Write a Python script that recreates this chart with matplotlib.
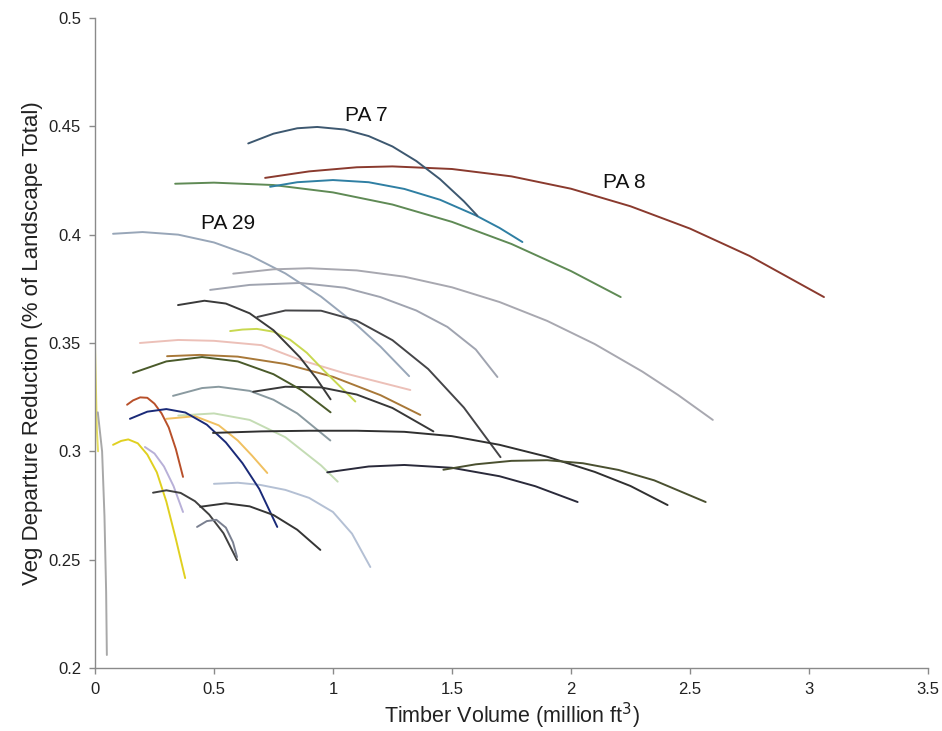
import matplotlib
matplotlib.use("Agg")
import matplotlib.pyplot as plt

plt.rcParams['font.family'] = ['Liberation Sans', 'DejaVu Sans']

# Timber volume (million ft3) vs. veg departure reduction, one frontier per planning area
pa7_vol = [0.644, 0.75, 0.85, 0.934, 1.05, 1.15, 1.25, 1.35, 1.45, 1.55, 1.607]
pa7_red = [0.4421, 0.4466, 0.4491, 0.4497, 0.4485, 0.4455, 0.4407, 0.4340, 0.4256, 0.4154, 0.4087]

pa8_vol = [0.715, 0.9, 1.1, 1.25, 1.5, 1.75, 2.0, 2.25, 2.5, 2.75, 3.063]
pa8_red = [0.4262, 0.4292, 0.4311, 0.4315, 0.4303, 0.4269, 0.4212, 0.4131, 0.4028, 0.3902, 0.3712]

teal_vol = [0.736, 0.85, 1.0, 1.15, 1.3, 1.45, 1.6, 1.7, 1.796]
teal_red = [0.4221, 0.4242, 0.4252, 0.4242, 0.4211, 0.4161, 0.4089, 0.4031, 0.3966]

green_vol = [0.337, 0.5, 0.75, 1.0, 1.25, 1.5, 1.75, 2.0, 2.209]
green_red = [0.4235, 0.4240, 0.4229, 0.4195, 0.4139, 0.4059, 0.3957, 0.3832, 0.3712]

pa29_vol = [0.076, 0.2, 0.35, 0.5, 0.65, 0.8, 0.95, 1.1, 1.2, 1.32]
pa29_red = [0.4004, 0.4012, 0.4000, 0.3964, 0.3905, 0.3821, 0.3714, 0.3583, 0.3483, 0.3347]

g384_vol = [0.581, 0.75, 0.9, 1.1, 1.3, 1.5, 1.7, 1.9, 2.1, 2.3, 2.45, 2.596]
g384_red = [0.3820, 0.3840, 0.3845, 0.3835, 0.3806, 0.3757, 0.3689, 0.3602, 0.3495, 0.3368, 0.3260, 0.3145]

g378_vol = [0.484, 0.65, 0.862, 1.05, 1.199, 1.35, 1.481, 1.6, 1.691]
g378_red = [0.3745, 0.3768, 0.3777, 0.3755, 0.3712, 0.3650, 0.3574, 0.3470, 0.3343]

d369_vol = [0.349, 0.46, 0.55, 0.65, 0.75, 0.862, 0.93, 0.99]
d369_red = [0.3675, 0.3695, 0.3682, 0.3637, 0.3559, 0.3433, 0.3337, 0.3240]

d365_vol = [0.682, 0.8, 0.95, 1.1, 1.25, 1.4, 1.55, 1.704]
d365_red = [0.3620, 0.3650, 0.3649, 0.3603, 0.3513, 0.3380, 0.3202, 0.2973]

d330_vol = [0.665, 0.8, 0.95, 1.1, 1.25, 1.422]
d330_red = [0.3275, 0.3298, 0.3295, 0.3262, 0.3200, 0.3092]

yg357_vol = [0.568, 0.62, 0.68, 0.75, 0.82, 0.89, 0.96, 1.02, 1.094]
yg357_red = [0.3555, 0.3562, 0.3565, 0.3552, 0.3515, 0.3455, 0.3375, 0.3310, 0.3230]

ol342_vol = [0.16, 0.3, 0.45, 0.6, 0.75, 0.87, 0.99]
ol342_red = [0.3362, 0.3415, 0.3435, 0.3415, 0.3356, 0.3281, 0.3180]

br345_vol = [0.303, 0.44, 0.6, 0.8, 1.0, 1.2, 1.367]
br345_red = [0.3439, 0.3445, 0.3437, 0.3403, 0.3344, 0.3259, 0.3168]

pk350_vol = [0.189, 0.35, 0.5, 0.7, 0.862, 1.05, 1.325]
pk350_red = [0.3500, 0.3514, 0.3510, 0.3490, 0.3422, 0.3360, 0.3283]

gy325_vol = [0.328, 0.45, 0.52, 0.65, 0.75, 0.85, 0.989]
gy325_red = [0.3256, 0.3292, 0.3298, 0.3279, 0.3238, 0.3175, 0.3050]

lg318_vol = [0.35, 0.5, 0.65, 0.8, 0.95, 1.02]
lg318_red = [0.3165, 0.3175, 0.3145, 0.3065, 0.2935, 0.2860]

or316_vol = [0.30, 0.42, 0.52, 0.60, 0.66, 0.724]
or316_red = [0.3150, 0.3162, 0.3120, 0.3050, 0.2980, 0.2900]

orr_vol = [0.135, 0.16, 0.19, 0.22, 0.25, 0.28, 0.31, 0.34, 0.37]
orr_red = [0.3215, 0.3235, 0.3249, 0.3247, 0.3220, 0.3175, 0.3110, 0.3010, 0.2882]

navy_vol = [0.147, 0.22, 0.30, 0.38, 0.47, 0.55, 0.62, 0.69, 0.766]
navy_red = [0.3150, 0.3183, 0.3195, 0.3179, 0.3123, 0.3041, 0.2945, 0.2827, 0.2651]

yel_vol = [0.076, 0.11, 0.14, 0.18, 0.22, 0.26, 0.30, 0.34, 0.379]
yel_red = [0.3030, 0.3048, 0.3055, 0.3037, 0.2985, 0.2903, 0.2768, 0.2595, 0.2415]

lav_vol = [0.21, 0.25, 0.29, 0.33, 0.37]
lav_red = [0.3020, 0.2990, 0.2930, 0.2840, 0.2720]

dg283_vol = [0.244, 0.30, 0.36, 0.42, 0.48, 0.54, 0.597]
dg283_red = [0.2809, 0.2820, 0.2808, 0.2770, 0.2708, 0.2622, 0.2498]

d276_vol = [0.442, 0.55, 0.65, 0.75, 0.85, 0.947]
d276_red = [0.2744, 0.2760, 0.2746, 0.2706, 0.2638, 0.2545]

g265_vol = [0.429, 0.47, 0.51, 0.55, 0.58, 0.597]
g265_red = [0.2651, 0.2678, 0.2684, 0.2648, 0.2580, 0.2512]

d310_vol = [0.496, 0.7, 0.9, 1.1, 1.3, 1.5, 1.7, 1.9, 2.1, 2.25, 2.406]
d310_red = [0.3085, 0.3092, 0.3095, 0.3095, 0.3090, 0.3070, 0.3030, 0.2975, 0.2905, 0.2840, 0.2752]

d293_vol = [0.976, 1.15, 1.3, 1.5, 1.7, 1.85, 2.028]
d293_red = [0.2903, 0.2930, 0.2937, 0.2924, 0.2885, 0.2839, 0.2766]

ol296_vol = [1.464, 1.6, 1.75, 1.9, 2.05, 2.2, 2.35, 2.566]
ol296_red = [0.2915, 0.2940, 0.2956, 0.2959, 0.2945, 0.2914, 0.2866, 0.2766]

lb_vol = [0.5, 0.6, 0.694, 0.8, 0.9, 1.0, 1.08, 1.157]
lb_red = [0.2850, 0.2855, 0.2845, 0.2822, 0.2785, 0.2720, 0.2620, 0.2466]

vy_vol = [0.0, 0.004, 0.008, 0.013]
vy_red = [0.349, 0.330, 0.310, 0.300]

vg_vol = [0.012, 0.030, 0.040, 0.047, 0.050]
vg_red = [0.318, 0.300, 0.270, 0.235, 0.206]

curves = [
    (lb_vol, lb_red, "#b4c0d4"),
    (lg318_vol, lg318_red, "#c4dcb4"),
    (or316_vol, or316_red, "#f0c060"),
    (pk350_vol, pk350_red, "#ecc0b8"),
    (lav_vol, lav_red, "#b8b0d8"),
    (vy_vol, vy_red, "#e8e060"),
    (vg_vol, vg_red, "#a8a8a8"),
    (pa29_vol, pa29_red, "#98a6b8"),
    (g384_vol, g384_red, "#a8a8b0"),
    (g378_vol, g378_red, "#a0a4b0"),
    (gy325_vol, gy325_red, "#8a9aa0"),
    (br345_vol, br345_red, "#a87838"),
    (yg357_vol, yg357_red, "#c8d850"),
    (pa8_vol, pa8_red, "#8a3a2e"),
    (green_vol, green_red, "#5f8a55"),
    (teal_vol, teal_red, "#2f7fa3"),
    (pa7_vol, pa7_red, "#3d5870"),
    (d369_vol, d369_red, "#3a3a3a"),
    (d365_vol, d365_red, "#454548"),
    (d330_vol, d330_red, "#383838"),
    (ol342_vol, ol342_red, "#4a5a2a"),
    (orr_vol, orr_red, "#b8502a"),
    (navy_vol, navy_red, "#1a2a78"),
    (yel_vol, yel_red, "#e0d020"),
    (dg283_vol, dg283_red, "#404040"),
    (d276_vol, d276_red, "#353535"),
    (g265_vol, g265_red, "#7a8090"),
    (d310_vol, d310_red, "#303030"),
    (d293_vol, d293_red, "#2a2a3a"),
    (ol296_vol, ol296_red, "#4a5030"),
]

fig = plt.figure(figsize=(9.42, 7.31), dpi=100)
ax = fig.add_axes([0.1008, 0.0862, 0.8843, 0.8892])

for vol, red, col in curves:
    ax.plot(vol, red, color=col, lw=1.4, solid_capstyle='round', solid_joinstyle='round')

ax.set_xlim(0, 3.5)
ax.set_ylim(0.2, 0.5)
ax.set_xticks([0, 0.5, 1, 1.5, 2, 2.5, 3, 3.5])
ax.set_xticklabels(["0", "0.5", "1", "1.5", "2", "2.5", "3", "3.5"])
ax.set_yticks([0.2, 0.25, 0.3, 0.35, 0.4, 0.45, 0.5])
ax.set_yticklabels(["0.2", "0.25", "0.3", "0.35", "0.4", "0.45", "0.5"])

for side in ("top", "right"):
    ax.spines[side].set_visible(False)
for side in ("left", "bottom"):
    ax.spines[side].set_color("#8a8a8a")
    ax.spines[side].set_linewidth(1.0)
ax.tick_params(direction="out", length=4, width=1.0, color="#8a8a8a",
               labelsize=12, labelcolor="#222222", pad=6)

ax.set_xlabel("Timber Volume (million ft$^3$)", fontsize=15.5, color="#222222")
ax.set_ylabel("Veg Departure Reduction (% of Landscape Total)", fontsize=16,
              color="#222222")
ax.xaxis.set_label_coords(0.5, -0.051)
ax.yaxis.set_label_coords(-0.062, 0.5)

ax.text(1.05, 0.4525, "PA 7", fontsize=15, color="#111111")
ax.text(2.135, 0.4215, "PA 8", fontsize=15, color="#111111")
ax.text(0.445, 0.4025, "PA 29", fontsize=15, color="#111111")

fig.savefig("out.png", dpi=100)
